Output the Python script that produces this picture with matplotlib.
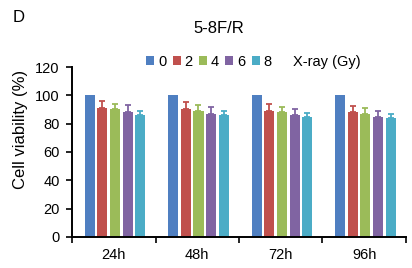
import numpy as np
import matplotlib.pyplot as plt

plt.rcParams['font.family'] = ['Liberation Sans', 'DejaVu Sans']

times = ['24h', '48h', '72h', '96h']
doses = ['0', '2', '4', '6', '8']
colors = ['#4F7FC1', '#C0504D', '#9BBB59', '#8064A2', '#4BACC6']

# viability (%) per dose, one value per time point
viab = [
    [100, 100, 100, 100],
    [91, 90, 89, 88],
    [90, 89, 88, 87],
    [88, 87, 86, 85],
    [86, 86, 85, 84],
]
# upper error (SD)
err = [
    [0, 0, 0, 0],
    [5, 5, 5, 4.8],
    [4, 4, 3.6, 4],
    [5, 4.6, 4.4, 4],
    [2.6, 2.7, 2.6, 3],
]

fig = plt.figure(figsize=(4.12, 2.68), dpi=100)
ax = fig.add_axes([0.175, 0.116, 0.81, 0.634])

x = np.arange(len(times))
pitch = 0.152
w = 0.12
for i in range(len(doses)):
    pos = x + (i - 2) * pitch + 0.015
    e = np.array(err[i])
    ax.bar(pos, viab[i], width=w, color=colors[i], label=doses[i], zorder=2)
    if e.sum() > 0:
        ax.errorbar(pos, viab[i], yerr=[np.zeros_like(e), e], fmt='none',
                    ecolor=colors[i], elinewidth=1.3, capsize=2.5,
                    capthick=1.3, zorder=3)

ax.set_xlim(-0.5, 3.5)
ax.set_ylim(0, 120)
ax.set_yticks(range(0, 121, 20))
ax.set_xticks(x)
ax.set_xticklabels(times)
ax.set_xticks(np.arange(-0.5, 3.6, 1), minor=True)
ax.tick_params(axis='x', which='major', length=0, pad=8, labelsize=10.5)
ax.tick_params(axis='x', which='minor', length=4, width=1.2, direction='out')
ax.tick_params(axis='y', length=4, width=1.2, labelsize=10.5, pad=5)
for s in ['top', 'right']:
    ax.spines[s].set_visible(False)
for s in ['left', 'bottom']:
    ax.spines[s].set_linewidth(1.4)

ax.set_ylabel('Cell viability (%)', fontsize=12)
ax.yaxis.set_label_coords(-0.132, 0.635)

fig.text(0.046, 0.935, 'D', fontsize=12, ha='center', va='center')
fig.text(0.53, 0.895, '5-8F/R', fontsize=12, ha='center', va='center')

leg = ax.legend(loc='center', bbox_to_anchor=(0.41, 1.03), ncol=5, frameon=False,
                fontsize=10.5, handlelength=0.55, handleheight=0.55,
                handletextpad=0.25, columnspacing=0.45, borderaxespad=0)
fig.text(0.71, 0.77, 'X-ray (Gy)', fontsize=10.5, ha='left', va='center')

fig.savefig('out.png', dpi=100)
